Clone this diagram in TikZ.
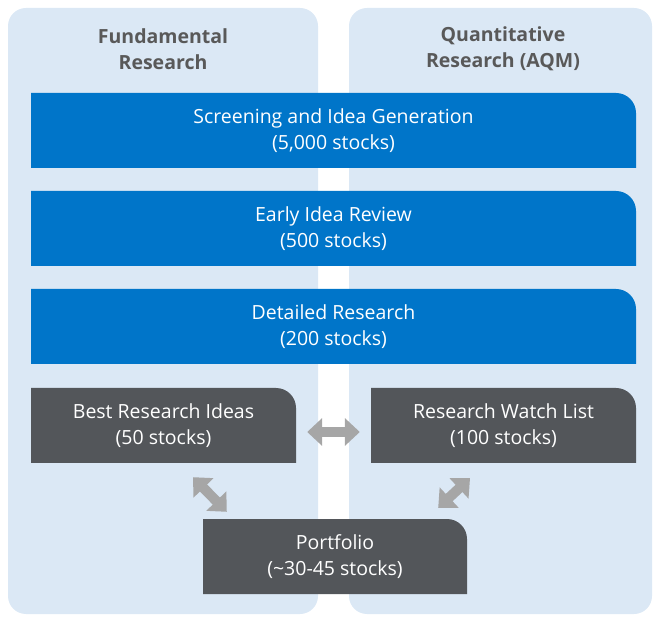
\documentclass[tikz,border=0pt]{standalone}
\usepackage{fontspec}
\setmainfont{Open Sans}
\usepackage{xcolor}
\usepackage{tikz}
\usetikzlibrary{calc}
\usetikzlibrary{arrows.meta}

\definecolor{panelblue}{RGB}{219,232,245}
\definecolor{stepblue}{RGB}{0,117,201}
\definecolor{listgray}{RGB}{83,86,90}
\definecolor{arrowgray}{RGB}{166,166,166}
\definecolor{headgray}{RGB}{89,89,89}

\tikzset{
	tab/.style={inner sep=0pt, align=center, text=white, font=\fontsize{19.5}{26.5}\selectfont,
		path picture={\fill [#1] (path picture bounding box.south west) -- (path picture bounding box.north west)
			-- ([xshift=-20pt]path picture bounding box.north east) arc[start angle=90, end angle=0, radius=20pt]
			-- (path picture bounding box.south east) -- cycle;}},
	wide/.style={tab=stepblue, minimum width=605pt, minimum height=75pt},
	short/.style={tab=listgray, minimum width=265pt, minimum height=75pt},
	head/.style={align=center, text=headgray, font=\bfseries\fontsize{19.5}{26}\selectfont},
	link/.style={arrowgray, line width=10pt,
		{Triangle[length=15pt, width=27pt]}-{Triangle[length=15pt, width=27pt]}}
}

\begin{document}
\begin{tikzpicture}[x=1pt, y=1pt]
	
	\useasboundingbox (0,0) rectangle (653,616);
	
	% two columns
	\fill [panelblue, rounded corners=18pt] (8,2) rectangle (318,608);
	\fill [panelblue, rounded corners=18pt] (349,2) rectangle (652,608);
	
	\node [head] (fund) at (163,567) {Fundamental\\Research};
	\node [head] (quant) at (503,567) {Quantitative\\Research (AQM)};
	
	% common steps
	\node [wide] (screen) at (333.5,485.5) {Screening and Idea Generation\\(5,000 stocks)};
	\node [wide] (early) at (333.5,387.5) {Early Idea Review\\(500 stocks)};
	\node [wide] (detail) at (333.5,289.5) {Detailed Research\\(200 stocks)};
	
	% lists
	\node [short] (best) at (163.5,190.5) {Best Research Ideas\\(50 stocks)};
	\node [short] (watch) at (503.5,190.5) {Research Watch List\\(100 stocks)};
	\node [short, minimum width=264pt] (port) at (335,59.5) {Portfolio\\(\char`\~30-45 stocks)};
	
	\draw [link] ([shift={(11,-6.5)}]best.east) -- ([shift={(-11,-6.5)}]watch.west);
	\draw [link] ([shift={(29.5,-14)}]best.south) -- ([shift={(24,7)}]port.north west);
	\draw [link] ([shift={(-33.5,-15)}]watch.south) -- ([shift={(-29,11)}]port.north east);
	
\end{tikzpicture}
\end{document}
